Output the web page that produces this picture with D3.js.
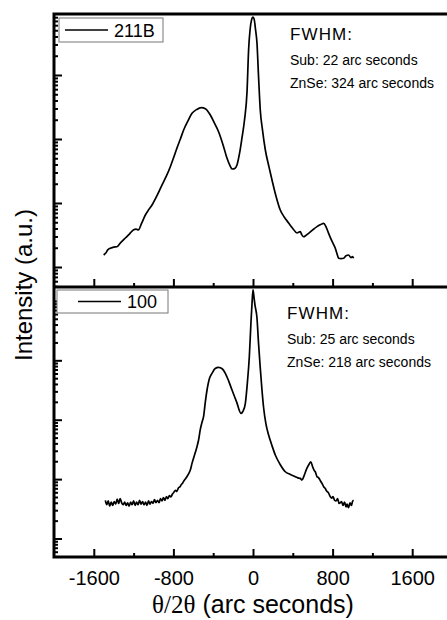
<!DOCTYPE html>
<html>
<head>
<meta charset="utf-8">
<script src="https://cdn.jsdelivr.net/npm/d3@7.9.0/dist/d3.min.js"></script>
<style>
  body { margin: 0; background: #fff; }
  svg { display: block; font-family: "Liberation Sans", Arial, sans-serif; }
</style>
</head>
<body>
<svg width="447" height="620"></svg>
<script>
// 211B sample: theta/2theta offset (arc sec) vs intensity (a.u.)
const x211 = [-1501, -1480, -1460, -1434, -1400, -1367, -1330, -1283, -1240, -1203, -1175, -1153,
  -1120, -1082, -1050, -1015, -960, -915, -870, -831, -800, -764, -730, -697, -655, -613, -565,
  -520, -475, -429, -390, -346, -300, -261, -230, -211, -185, -161, -135, -111, -85, -60, -44,
  -30, -15, 0, 12, 25, 40, 55, 73, 95, 124, 160, 191, 230, 274, 315, 358, 400, 442, 475, 490,
  509, 530, 559, 600, 643, 680, 710, 735, 760, 790, 827, 845, 860, 885, 911, 935, 961, 985, 1000, 1011];
const y211 = [15.4, 16.5, 18.5, 19.6, 20.5, 20.7, 24, 28.4, 33, 37.9, 39, 37.9,
  48, 64.9, 78, 93, 135, 191, 265, 369, 500, 723, 1000, 1381, 1900, 2514, 2900,
  3081, 2950, 2371, 1800, 1300, 800, 499, 380, 340, 345, 392, 600, 1037, 2000, 5500, 25000,
  50000, 72000, 80000, 74000, 52000, 31600, 10000, 2840, 1400, 673, 370, 229, 130, 77.6, 60, 48.7, 40, 34, 35.6, 32,
  29.7, 31, 33.6, 38, 42.7, 46, 48.2, 42, 33.6, 26, 19.6, 16, 13.7, 13.5, 13.7, 15, 15.4, 14, 14.5, 13.7];

// 100 sample
const x100 = [-1484, -1470, -1455, -1440, -1425, -1410, -1395, -1380, -1365, -1350, -1335, -1320,
  -1305, -1290, -1275, -1260, -1245, -1230, -1215, -1200, -1185, -1170, -1155, -1140, -1125, -1110,
  -1095, -1080, -1065, -1050, -1035, -1020, -1005, -990, -975, -960, -945, -930, -915, -900, -885,
  -870, -855, -840, -825, -810, -795, -780, -765, -750, -735, -720, -705, -690, -675, -660, -645,
  -630, -613, -596, -580, -563, -547, -530, -513, -496, -479, -462, -437, -412, -380, -346, -310,
  -278, -245, -211, -165, -121, -100, -77, -55, -37, -20, -10, 0, 10, 20, 40, 55, 73, 90, 107, 130,
  157, 190, 224, 270, 325, 375, 425, 450, 475, 492, 510, 540, 565, 581, 600, 615, 626, 643, 660,
  680, 695, 710, 725, 740, 755, 777, 790, 805, 820, 835, 850, 865, 877, 890, 905, 920, 935, 945,
  960, 975, 990, 1000, 1011];
const y100 = [44, 37, 43, 35, 41, 36, 42, 38, 46, 39, 47, 40,
  37, 41, 36, 40, 35, 41, 37, 43, 36, 41, 37, 44, 38, 42,
  37, 41, 36, 43, 38, 42, 39, 45, 40, 44, 40, 47, 43, 49, 44,
  51, 47, 53, 50, 56, 60, 65, 62, 71, 74, 81, 87, 96, 103, 113, 125,
  142, 184, 230, 280, 351, 455, 680, 900, 1150, 2000, 3162, 5000, 6030, 7300, 7620, 7200,
  6030, 4500, 3162, 2000, 1282, 1400, 1888, 4500, 11480, 45000, 90000, 152800, 115000, 85000, 51500, 20000, 7410, 3200, 1574, 850,
  552, 370, 255, 180, 133, 120, 110, 105, 103, 96.6, 110, 150, 180, 196, 160, 140, 133, 110, 105,
  92, 84, 74.5, 70, 63, 60, 50.6, 48, 51, 44, 43, 47, 39, 40, 42, 36, 41, 34, 38,
  33, 40, 36, 42, 44];

const xMajor = [-1600, -800, 0, 800, 1600];
const xMinor = [-1200, -400, 400, 1200];

const svg = d3.select("svg");
const left = 54, right = 452;
const panels = [
  { top: 14, bottom: 287, dom: [10 ** 0.6875, 10 ** 4.953], xs: x211, ys: y211, label: "211B",
    box: [59, 18, 104, 24], sub: "Sub: 22 arc seconds", znse: "ZnSe: 324 arc seconds", tx: 290, ty: 40 },
  { top: 287, bottom: 557, dom: [10 ** 0.689, 10 ** 5.234], xs: x100, ys: y100, label: "100",
    box: [57, 290, 111, 23], sub: "Sub: 25 arc seconds", znse: "ZnSe: 218 arc seconds", tx: 287, ty: 319 }
];

const x = d3.scaleLinear([-2000, 2000], [left, right]);

panels.forEach((p, i) => {
  const y = d3.scaleLog(p.dom, [p.bottom, p.top]);

  // log ticks: decades + minor 2..9
  let major = [], minor = [];
  const e0 = Math.floor(Math.log10(p.dom[0])), e1 = Math.ceil(Math.log10(p.dom[1]));
  for (let e = e0; e <= e1; e++) {
    for (let m = 1; m <= 9; m++) {
      const v = m * 10 ** e;
      if (v < p.dom[0] || v > p.dom[1]) continue;
      (m === 1 ? major : minor).push(v);
    }
  }
  const gy = svg.append("g").attr("transform", `translate(${left},0)`);
  gy.call(d3.axisLeft(y).tickValues(major).tickSize(-8).tickSizeOuter(0).tickFormat(""));
  gy.call(g => g.select(".domain").remove());
  const gy2 = svg.append("g").attr("transform", `translate(${left},0)`);
  gy2.call(d3.axisLeft(y).tickValues(minor).tickSize(-4).tickSizeOuter(0).tickFormat(""));
  gy2.call(g => g.select(".domain").remove());

  const gx = svg.append("g").attr("transform", `translate(0,${p.bottom})`);
  gx.call(d3.axisBottom(x).tickValues(xMajor).tickSize(-8).tickSizeOuter(0)
    .tickPadding(14).tickFormat(i === 1 ? (d => String(d)) : ""));
  gx.call(g => g.select(".domain").remove());
  gx.selectAll("text").attr("font-size", 20).attr("fill", "#000")
    .attr("font-family", "Liberation Sans, Arial, sans-serif");
  const gx2 = svg.append("g").attr("transform", `translate(0,${p.bottom})`);
  gx2.call(d3.axisBottom(x).tickValues(xMinor).tickSize(-4).tickSizeOuter(0).tickFormat(""));
  gx2.call(g => g.select(".domain").remove());

  svg.selectAll(".tick line").attr("stroke", "#000").attr("stroke-width", 2);

  const line = d3.line()
    .x((d, j) => x(p.xs[j]))
    .y((d, j) => y(p.ys[j]))
    .curve(d3.curveMonotoneX);
  svg.append("path")
    .attr("d", line(p.xs))
    .attr("fill", "none")
    .attr("stroke", "#000")
    .attr("stroke-width", 1.7)
    .attr("stroke-linejoin", "round");

  // legend
  const [bx, by, bw, bh] = p.box;
  svg.append("rect").attr("x", bx).attr("y", by).attr("width", bw).attr("height", bh)
    .attr("fill", "#fff").attr("stroke", "#777").attr("stroke-width", 1);
  const ly = by + bh / 2;
  const lx = i === 0 ? bx + 6 : bx + 21;
  svg.append("line").attr("x1", lx).attr("x2", lx + 43).attr("y1", ly).attr("y2", ly)
    .attr("stroke", "#000").attr("stroke-width", 1.7);
  svg.append("text").attr("x", lx + 49).attr("y", ly + 6.5).attr("font-size", 18).text(p.label);

  // annotation
  svg.append("text").attr("x", p.tx).attr("y", p.ty).attr("font-size", 17)
    .attr("textLength", 62).text("FWHM:");
  svg.append("text").attr("x", p.tx).attr("y", p.ty + 25).attr("font-size", 14).text(p.sub);
  svg.append("text").attr("x", p.tx).attr("y", p.ty + 48).attr("font-size", 14).text(p.znse);
});

// frame
svg.append("path")
  .attr("d", `M${right},14H${left}V557H${right}M${left},287H${right}`)
  .attr("fill", "none").attr("stroke", "#000").attr("stroke-width", 3);

// axis titles
svg.append("text")
  .attr("transform", "translate(32,285) rotate(-90)")
  .attr("text-anchor", "middle").attr("font-size", 24)
  .text("Intensity (a.u.)");
const xt = svg.append("text")
  .attr("x", 253).attr("y", 613).attr("text-anchor", "middle").attr("font-size", 25);
xt.append("tspan").attr("font-family", "Liberation Serif, serif").text("θ/2θ");
xt.append("tspan").text(" (arc seconds)");
</script>
</body>
</html>
